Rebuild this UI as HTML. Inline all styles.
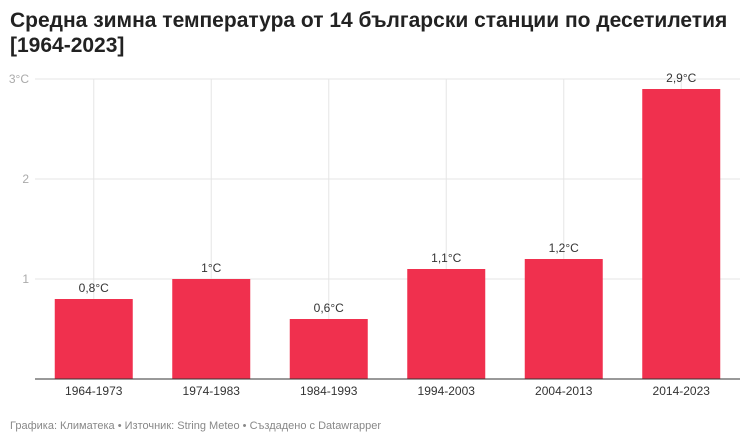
<!DOCTYPE html>
<html><head><meta charset="utf-8"><style>
body{margin:0;background:#fff;font-family:"Liberation Sans","DejaVu Sans",sans-serif;}
#wrap{position:relative;width:750px;height:444px;overflow:hidden}
h1{position:absolute;left:10px;top:8px;margin:0;font-size:21px;line-height:25px;font-weight:bold;color:#222;width:735px}
#foot{position:absolute;left:10px;top:420px;font-size:11px;color:#888}
</style></head><body>
<div id="wrap">
<h1>Средна зимна температура от 14 български станции по десетилетия [1964-2023]</h1>
<svg id="chart" width="750" height="444" style="position:absolute;left:0;top:0"></svg>
<div id="foot">Графика: Климатека • Източник: String Meteo • Създадено с Datawrapper</div>
</div>
<script>
const categories=["1964-1973","1974-1983","1984-1993","1994-2003","2004-2013","2014-2023"];
const values=[0.8,1,0.6,1.1,1.2,2.9];
const valueLabels=["0,8°C","1°C","0,6°C","1,1°C","1,2°C","2,9°C"];
const yTicks=[0,1,2,3];
const yTickLabels=["","1","2","3°C"];
const NS="http://www.w3.org/2000/svg";
const svg=document.getElementById('chart');
const L=35,R=740,T=79,B=379,yMax=3;
const step=(R-L)/categories.length,bw=78;
const y=v=>B-(v/yMax)*(B-T);
const xc=i=>L+step*(i+0.5);
function mk(tag,a,txt){const e=document.createElementNS(NS,tag);for(const k in a)e.setAttribute(k,a[k]);if(txt!=null)e.textContent=txt;svg.appendChild(e);return e;}
yTicks.forEach((t,i)=>{
 if(t>0){const g=mk('line',{x1:L,x2:R,y1:y(t),y2:y(t),stroke:'#e5e5e5','stroke-width':1});
 
 }
 const tl=mk('text',{x:29,y:y(t)+4,'text-anchor':'end','font-size':12,fill:'#aaa'},yTickLabels[i]);
 
 
});
categories.forEach((c,i)=>{
 const v=mk('line',{x1:xc(i),x2:xc(i),y1:T,y2:B,stroke:'#e5e5e5','stroke-width':1});
 
 
});
categories.forEach((c,i)=>{
 const b=mk('rect',{x:xc(i)-bw/2,y:y(values[i]),width:bw,height:B-y(values[i]),fill:'#f0304e'});
 
 
 const vl=mk('text',{x:xc(i),y:y(values[i])-7,'text-anchor':'middle','font-size':12,fill:'#333'},valueLabels[i]);
 
 
 const xl=mk('text',{x:xc(i),y:B+16,'text-anchor':'middle','font-size':12,fill:'#333'},c);
 
 
});
const base=mk('line',{x1:L,x2:R,y1:B,y2:B,stroke:'#333','stroke-width':1});


</script>
</body></html>
